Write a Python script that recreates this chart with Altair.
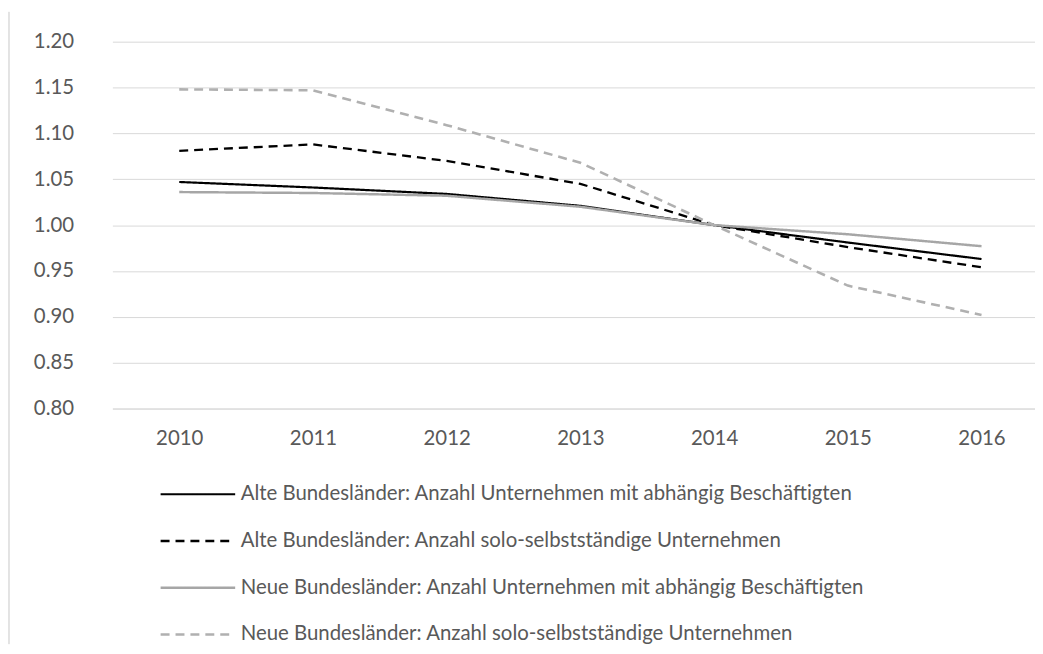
import altair as alt
import pandas as pd

years = [2010, 2011, 2012, 2013, 2014, 2015, 2016]
series_names = [
    "Alte Bundesländer: Anzahl Unternehmen mit abhängig Beschäftigten",
    "Alte Bundesländer: Anzahl solo-selbstständige Unternehmen",
    "Neue Bundesländer: Anzahl Unternehmen mit abhängig Beschäftigten",
    "Neue Bundesländer: Anzahl solo-selbstständige Unternehmen",
]
alte_abh = [1.047, 1.041, 1.034, 1.021, 1.000, 0.981, 0.963]
alte_solo = [1.081, 1.088, 1.070, 1.045, 1.000, 0.976, 0.954]
neue_abh = [1.036, 1.035, 1.032, 1.020, 1.000, 0.990, 0.977]
neue_solo = [1.148, 1.147, 1.109, 1.068, 1.000, 0.934, 0.902]
y_ticks = [0.80, 0.85, 0.90, 0.95, 1.00, 1.05, 1.10, 1.15, 1.20]

rows = []
for name, vals in zip(series_names, [alte_abh, alte_solo, neue_abh, neue_solo]):
    for yr, v in zip(years, vals):
        rows.append({"Jahr": yr, "Wert": v, "Reihe": name})
df = pd.DataFrame(rows)

FONT = "Lato"
TXT = "#595959"
FS = 20.5

lines = alt.Chart(df).mark_line().encode(
    x=alt.X("Jahr:Q", title=None,
            scale=alt.Scale(domain=[2009.5, 2016.4], nice=False, zero=False),
            axis=alt.Axis(values=years, format="d", labelAngle=0, ticks=False,
                          domainColor="#d9d9d9", labelPadding=20, grid=False)),
    y=alt.Y("Wert:Q", title=None,
            scale=alt.Scale(domain=[0.8, 1.2], nice=False, zero=False),
            axis=alt.Axis(values=y_ticks, format=".2f", ticks=False, domain=False,
                          labelPadding=39, gridColor="#d9d9d9")),
    color=alt.Color("Reihe:N", sort=series_names, title=None,
                    scale=alt.Scale(domain=series_names,
                                    range=["#000000", "#000000", "#a6a6a6", "#b0b0b0"]),
                    legend=alt.Legend(orient="none", legendX=47, legendY=432,
                                      direction="vertical", symbolType="stroke",
                                      symbolSize=5625, symbolStrokeWidth=2.2,
                                      labelFontSize=FS, labelFont=FONT, labelColor=TXT,
                                      labelOffset=4, rowPadding=0, clipHeight=46.5,
                                      labelLimit=900)),
    strokeDash=alt.StrokeDash("Reihe:N", sort=series_names, title=None,
                              scale=alt.Scale(domain=series_names,
                                              range=[[1, 0], [9, 6], [1, 0], [9, 6]])),
    strokeWidth=alt.StrokeWidth("Reihe:N", sort=series_names, title=None, legend=None,
                                scale=alt.Scale(domain=series_names,
                                                range=[2.2, 2.6, 2.0, 2.0])),
)

border = alt.Chart(pd.DataFrame({"a": [0]})).mark_rule(color="#c8c8c8", strokeWidth=1).encode(
    x=alt.value(-104), y=alt.value(-30), y2=alt.value(606)
)

chart = alt.layer(border, lines).properties(
    width=928, height=369,
    autosize=alt.AutoSizeParams(type="none"),
    padding={"left": 105, "top": 32, "right": 0, "bottom": 237},
).configure_view(stroke=None).configure_axis(
    labelFont=FONT, labelFontSize=FS, labelColor=TXT
)

chart.save("out.html", embed_options={"renderer": "svg", "actions": False})
